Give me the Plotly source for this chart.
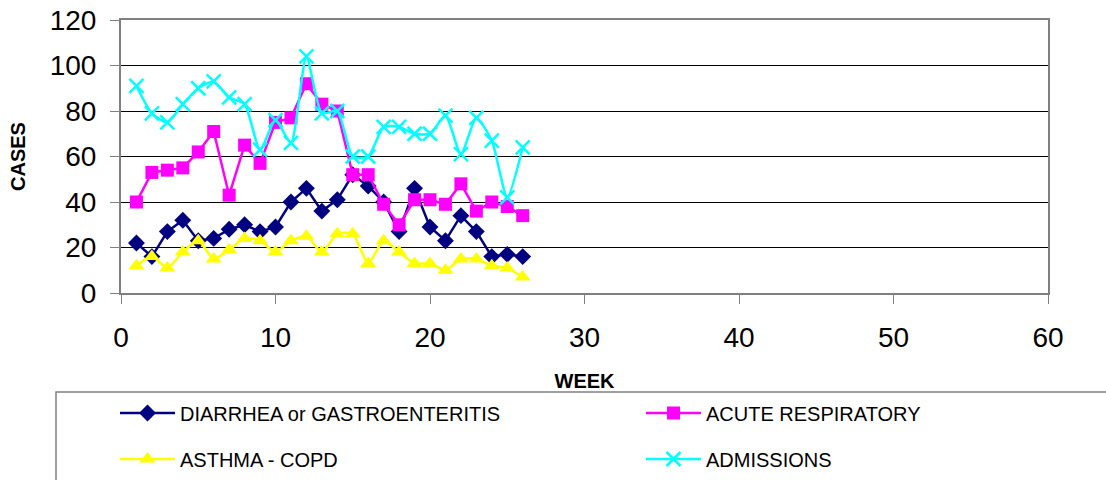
import plotly.graph_objects as go

weeks = list(range(1, 27))
diarrhea = [22, 16, 27, 32, 23, 24, 28, 30, 27, 29, 40, 46, 36, 41, 52, 47, 40, 27, 46, 29, 23, 34, 27, 16, 17, 16]
acute_resp = [40, 53, 54, 55, 62, 71, 43, 65, 57, 75, 77, 92, 83, 80, 52, 52, 39, 30, 41, 41, 39, 48, 36, 40, 38, 34]
asthma = [12, 16, 11, 18, 23, 15, 19, 24, 23, 18, 23, 25, 18, 26, 26, 13, 23, 18, 13, 13, 10, 15, 15, 12, 11, 7]
admissions = [91, 79, 75, 83, 90, 93, 86, 83, 63, 76, 66, 104, 79, 80, 60, 60, 73, 73, 70, 70, 78, 61, 77, 67, 42, 64]

x_ticks = [0, 10, 20, 30, 40, 50, 60]
y_ticks = [0, 20, 40, 60, 80, 100, 120]

FONT = "Liberation Sans, Arial, sans-serif"

W, H = 1106, 480

fig = go.Figure()
fig.add_trace(go.Scatter(
    x=weeks, y=diarrhea, name="DIARRHEA or GASTROENTERITIS", mode="lines+markers",
    line=dict(color="#000080", width=2.5),
    marker=dict(symbol="diamond", size=13, color="#000080"),
    legend="legend"))
fig.add_trace(go.Scatter(
    x=weeks, y=acute_resp, name="ACUTE RESPIRATORY", mode="lines+markers",
    line=dict(color="#FF00FF", width=2.5),
    marker=dict(symbol="square", size=13, color="#FF00FF"),
    legend="legend2"))
fig.add_trace(go.Scatter(
    x=weeks, y=asthma, name="ASTHMA - COPD", mode="lines+markers",
    line=dict(color="#FFFF00", width=2.5, shape="spline", smoothing=0.6),
    marker=dict(symbol="triangle-up", size=14, color="#FFFF00"),
    legend="legend3"))
fig.add_trace(go.Scatter(
    x=weeks, y=admissions, name="ADMISSIONS", mode="lines+markers",
    line=dict(color="#00FFFF", width=2.5, shape="spline", smoothing=0.6),
    marker=dict(symbol="x-thin", size=14, line=dict(color="#00FFFF", width=2.5)),
    legend="legend4"))


def leg(px, py):
    return dict(
        orientation="h", xref="container", yref="container",
        x=px / W, y=1 - py / H, xanchor="left", yanchor="middle",
        font=dict(family=FONT, size=20, color="#000000"),
        bgcolor="rgba(0,0,0,0)", borderwidth=0, itemwidth=55,
    )


fig.update_layout(
    width=W, height=H,
    margin=dict(l=121, r=1106 - 1048, t=20, b=480 - 293, autoexpand=False),
    paper_bgcolor="#FFFFFF", plot_bgcolor="#FFFFFF",
    font=dict(family=FONT, color="#000000"),
    showlegend=True,
    legend=leg(115, 413),
    legend2=leg(641, 413),
    legend3=leg(115, 459),
    legend4=leg(641, 459),
    xaxis=dict(
        range=[0, 60], tickvals=x_ticks, ticktext=[str(v) for v in x_ticks],
        showgrid=False, zeroline=False, automargin=False,
        showline=True, mirror=True, linecolor="#808080", linewidth=2,
        ticks="outside", ticklen=9, tickcolor="#808080", tickwidth=1,
        ticklabelstandoff=9, ticklabeloverflow="allow",
        tickfont=dict(family=FONT, size=28, color="#000000"),
        title=dict(text="<b>WEEK</b>", font=dict(family=FONT, size=20, color="#000000"), standoff=22),
    ),
    yaxis=dict(
        range=[0, 120], tickvals=y_ticks, ticktext=[str(v) for v in y_ticks],
        showgrid=True, gridcolor="#000000", gridwidth=1, zeroline=False, automargin=False,
        showline=True, mirror=True, linecolor="#808080", linewidth=2,
        ticks="outside", ticklen=9, tickcolor="#808080", tickwidth=1,
        ticklabelstandoff=8, ticklabeloverflow="allow",
        tickfont=dict(family=FONT, size=28, color="#000000"),
        title=dict(text="<b>CASES</b>", font=dict(family=FONT, size=20, color="#000000"), standoff=19),
    ),
    shapes=[dict(
        type="rect", xref="paper", yref="paper",
        x0=(56 - 121) / 927, x1=1.1, y0=(293 - 392) / 273, y1=-0.8,
        line=dict(color="#808080", width=1.5), fillcolor="rgba(0,0,0,0)", layer="below",
    )],
)

fig.write_html("out.html", config={"displayModeBar": False},
               post_script="document.body.style.margin='0';")
